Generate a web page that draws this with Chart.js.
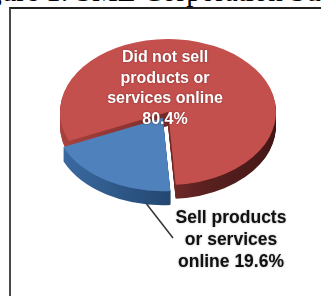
<!DOCTYPE html>
<html>
<head>
<meta charset="utf-8">
<script src="https://cdn.jsdelivr.net/npm/chart.js@4.4.1/dist/chart.umd.min.js"></script>
<style>
  html, body { margin: 0; padding: 0; background: #fff; }
  #wrap { position: relative; width: 321px; height: 296px; overflow: hidden; }
  #caption { position: absolute; left: -37px; top: -23px; font: 29px/29px "Liberation Serif", "Times New Roman", serif; color: #000; white-space: nowrap; }
  #frame { position: absolute; left: 9px; top: 7px; width: 330px; height: 310px; border-left: 2px solid #4a4a4a; border-top: 2px solid #222; }
  #chartBox { position: absolute; left: 0; top: 0; width: 321px; height: 296px; }
</style>
</head>
<body>
<div id="wrap">
  <div id="caption">Figure 1: SME Corporation Survey</div>
  <div id="frame"></div>
  <div id="chartBox"><canvas id="pieChart"></canvas></div>
</div>
<script>
// data
const categories = ['Did not sell products or services online', 'Sell products or services online'];
const shares = [80.4, 19.6];
const labelLines = [
    ['Did not sell', 'products or', 'services online'],
    ['Sell products', 'or services', 'online']
];

const TILT = 0.676;   // vertical squash -> ellipse
const DEPTH = 14;     // pie thickness in px

function squash(ctx, el) {
    ctx.translate(el.x, el.y);
    ctx.scale(1, TILT);
    ctx.translate(-el.x, -el.y);
}

function sideGradient(ctx, cx, r, stops) {
    const g = ctx.createLinearGradient(cx - r, 0, cx + r, 0);
    stops.forEach((c, i) => g.addColorStop(i / (stops.length - 1), c));
    return g;
}

const pie3d = {
    id: 'pie3d',
    beforeDatasetsDraw(chart) {
        const ctx = chart.ctx;
        const arcs = chart.getDatasetMeta(0).data;
        this._on = false;
        if (!arcs.length) return;
        const c = arcs[0];
        const r = c.outerRadius;
        const sides = [
            sideGradient(ctx, c.x, r, ['#a8423f', '#8a3432', '#5a2120', '#431716']),
            sideGradient(ctx, c.x, r, ['#3d6ca3', '#2c5585', '#1f3d62', '#1a3452'])
        ];
        // side walls: the slices repeated downwards in a darker colour
        for (let d = DEPTH; d >= 1; d--) {
            ctx.save();
            ctx.translate(0, d);
            squash(ctx, c);
            arcs.forEach((el, i) => {
                const copy = Object.create(Object.getPrototypeOf(el));
                Object.assign(copy, {
                    x: el.x, y: el.y,
                    startAngle: el.startAngle, endAngle: el.endAngle,
                    circumference: el.circumference,
                    innerRadius: el.innerRadius, outerRadius: el.outerRadius
                });
                copy.options = Object.assign({}, el.options, { backgroundColor: sides[i], borderWidth: 0 });
                copy.draw(ctx);
            });
            ctx.restore();
        }
        ctx.save();
        squash(ctx, c);
        this._on = true;
    },
    afterDatasetsDraw(chart) {
        if (this._on) chart.ctx.restore();
        this._on = false;
    },
    afterDraw(chart) {
        const ctx = chart.ctx;
        const arcs = chart.getDatasetMeta(0).data;
        if (arcs.length < 2) return;
        const c = arcs[0];
        const ry = c.outerRadius * TILT;

        ctx.save();
        ctx.textAlign = 'center';
        ctx.textBaseline = 'middle';

        // big slice label (inside)
        ctx.font = 'bold 16px "Liberation Sans", Arial, sans-serif';
        ctx.fillStyle = '#ffffff';
        ctx.shadowColor = 'rgba(80,20,20,0.6)';
        ctx.shadowBlur = 2;
        const redLines = labelLines[0].concat(shares[0] + '%');
        redLines.forEach((t, i) => ctx.fillText(t, c.x - 3, c.y - 0.74 * ry + i * 20.5));

        // leader line from the blue slice
        const b = arcs[1];
        const off = (b.options.offset || 0) / 4;
        const half = (b.startAngle + b.endAngle) / 2;
        const a = b.startAngle + 0.18 * b.circumference;
        const px = b.x + Math.cos(half) * off + Math.cos(a) * b.outerRadius;
        const py = b.y + (Math.sin(half) * off + Math.sin(a) * b.outerRadius) * TILT + DEPTH;
        ctx.shadowColor = 'transparent';
        ctx.strokeStyle = '#333';
        ctx.lineWidth = 1.5;
        ctx.beginPath();
        ctx.moveTo(px, py);
        ctx.lineTo(c.x + 5, c.y + 126);
        ctx.stroke();

        // small slice label (outside)
        ctx.font = 'bold 17.5px "Liberation Sans", Arial, sans-serif';
        ctx.fillStyle = '#111';
        ctx.shadowColor = 'rgba(0,0,0,0.35)';
        ctx.shadowBlur = 2;
        const blueLines = labelLines[1].slice(0, 2).concat(labelLines[1][2] + ' ' + shares[1] + '%');
        blueLines.forEach((t, i) => ctx.fillText(t, c.x + 63, c.y + 106 + i * 22));
        ctx.restore();
    }
};

new Chart(document.getElementById('pieChart'), {
    type: 'pie',
    data: {
        labels: categories,
        datasets: [{
            data: shares,
            backgroundColor: ['#c4504e', '#4f81bd'],
            borderWidth: 0,
            offset: [0, 40],
            clip: false
        }]
    },
    options: {
        responsive: true,
        maintainAspectRatio: false,
        animation: false,
        events: [],
        rotation: 246.5,
        radius: 108,
        layout: { padding: { left: 15, right: 0, top: 0, bottom: 72 } },
        plugins: {
            legend: { display: false },
            tooltip: { enabled: false }
        }
    },
    plugins: [pie3d]
});
</script>
</body>
</html>
